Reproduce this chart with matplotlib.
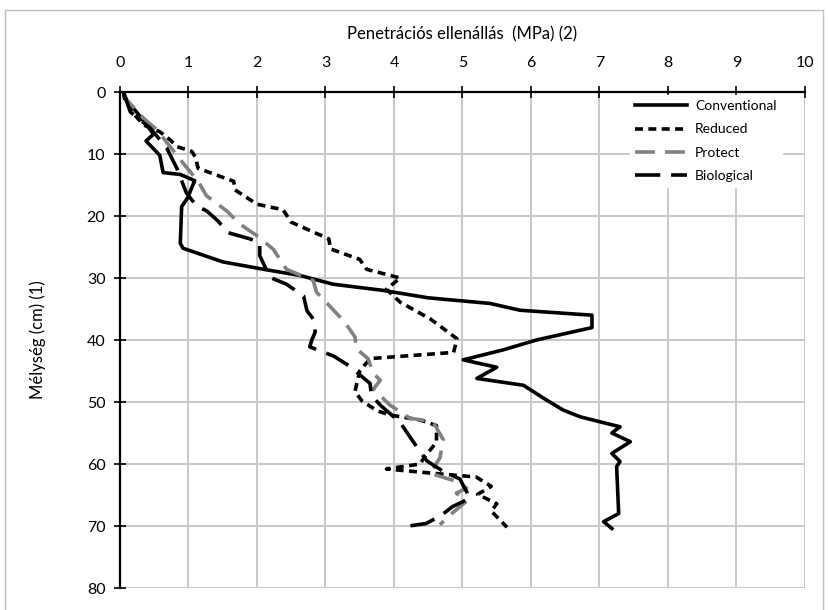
import matplotlib
matplotlib.use('Agg')
import matplotlib.pyplot as plt
from matplotlib.lines import Line2D

plt.rcParams['font.family'] = ['Lato', 'DejaVu Sans']

# depth (cm) and penetration resistance (MPa)
conv_x = [0.05, 0.07, 0.3, 0.49, 0.38, 0.58, 0.63, 0.88, 1.09, 0.99, 0.9, 0.88, 0.92, 1.5, 2.15, 2.63,
          3.11, 3.84, 4.5, 5.4, 5.84, 6.89, 6.89, 6.08, 5.59, 5.01, 5.5, 5.21, 5.89, 6.2, 6.47, 6.72,
          7.3, 7.18, 7.45, 7.18, 7.3, 7.25, 7.28, 7.06, 7.18]
conv_d = [0, 1, 4, 6.8, 7.9, 10.2, 13, 13.3, 14.3, 17, 18.5, 24.4, 25.2, 27.4, 28.7, 29.6,
          31, 32, 33.2, 34.1, 35.2, 36, 38, 40, 41.6, 43.2, 44.4, 46.2, 47.3, 49.5, 51.3, 52.4,
          54, 55, 56.4, 58.3, 59.6, 60.4, 68, 69.3, 70.4]

red_x = [0.05, 0.07, 0.2, 0.34, 0.58, 0.73, 0.83, 1.05, 1.1, 1.14, 1.46, 1.66, 1.68, 2.0, 2.38, 2.5,
         3.05, 3.07, 3.5, 3.6, 4.09, 3.89, 4.09, 4.53, 4.92, 4.87, 3.65, 3.5, 3.43, 3.53, 3.75, 3.94,
         4.38, 4.62, 4.62, 4.45, 4.38, 3.89, 4.57, 5.2, 5.42, 5.22, 5.5, 5.42, 5.65]
red_d = [0, 1.3, 3.5, 5.3, 6.4, 7.7, 8.8, 9.6, 10.5, 12.3, 13.6, 14.4, 15.8, 18.1, 19, 21,
         23.7, 25.3, 27, 28.6, 30, 31.8, 33.9, 36.6, 39.8, 42, 43, 45, 48.3, 49.8, 51.4, 52.1,
         52.9, 53.8, 56.5, 58.8, 60, 60.8, 61.5, 62.1, 63.6, 64.9, 66.4, 67.6, 70.2]

prot_x = [0.05, 0.1, 0.34, 0.54, 0.73, 0.9, 1.14, 1.26, 1.56, 1.75, 2.04, 2.24, 2.43, 2.82, 2.87,
          3.05, 3.28, 3.43, 3.45, 3.62, 3.7, 3.8, 3.7, 3.94, 4.23, 4.57, 4.72, 4.67, 4.53, 4.91,
          5.06, 4.91, 5.06, 4.82, 4.67]
prot_d = [0, 1.3, 4.2, 6.1, 8.8, 11.2, 14.4, 16.7, 19.2, 21.3, 23.5, 25.4, 28.6, 30.4, 32.3,
          34.4, 37.1, 39.5, 41.4, 43, 45.4, 46.5, 47.9, 50.5, 52.6, 53.2, 56.1, 59, 61.5, 62.8,
          63.9, 64.7, 66, 68.2, 69.8]

bio_x = [0.05, 0.15, 0.44, 0.68, 0.83, 0.97, 1.12, 1.27, 1.43, 1.58, 1.9, 2.04, 2.04, 2.19, 2.43,
         2.68, 2.73, 2.82, 2.85, 2.8, 2.77, 3.12, 3.35, 3.65, 3.67, 3.8, 4.09, 4.33, 4.48, 4.72,
         4.96, 5.11, 4.85, 4.7, 4.47, 4.15]
bio_d = [0, 3.2, 5.8, 9, 12.3, 16.3, 18.4, 19.2, 20.8, 22.7, 23.7, 24.3, 26.4, 29.9, 31,
         32.9, 35.3, 36.6, 38.7, 40, 41.1, 42.6, 44.2, 47, 48.9, 50.5, 53.3, 57.2, 59.5, 61.2,
         62.4, 65.5, 66.9, 68.2, 69.6, 70.1]

x_ticks = list(range(0, 11))
y_ticks = list(range(0, 81, 10))

fig = plt.figure(figsize=(8.29, 6.10), dpi=100)
ax = fig.add_axes([120 / 829, 1 - 588 / 610, 685 / 829, 496 / 610])

lw = 2.6
ax.plot(conv_x, conv_d, color='black', lw=lw, label='Conventional', solid_joinstyle='round')
ax.plot(red_x, red_d, color='black', lw=lw, dashes=(2.2, 1.5), label='Reduced')
ax.plot(prot_x, prot_d, color='#808080', lw=lw, dashes=(5.5, 2.8), label='Protect')
ax.plot(bio_x, bio_d, color='black', lw=lw, dashes=(7, 3), label='Biological')

ax.set_xlim(0, 10)
ax.set_ylim(80, 0)
ax.set_xticks(x_ticks)
ax.set_yticks(y_ticks)
ax.xaxis.tick_top()
ax.xaxis.set_label_position('top')
ax.tick_params(axis='both', direction='inout', length=9, width=1.2, labelsize=11.5, color='black')
ax.tick_params(axis='x', pad=11)
ax.tick_params(axis='y', pad=6)
ax.grid(True, color='#c8c8c8', lw=1.4)
ax.set_axisbelow(True)

for side in ['right', 'bottom']:
    ax.spines[side].set_visible(False)
for side in ['top', 'left']:
    ax.spines[side].set_linewidth(1.6)

ax.set_xlabel('Penetrációs ellenállás  (MPa) (2)', fontsize=12, labelpad=12)
ax.set_ylabel('Mélység (cm) (1)', fontsize=12, labelpad=29)

leg = ax.legend(loc='upper right', bbox_to_anchor=(1 - 20 / 685, 1.0), fontsize=10, handlelength=3.7,
                frameon=True, fancybox=False, borderaxespad=0.2, labelspacing=0.8,
                handletextpad=0.6)
leg.get_frame().set_edgecolor('white')
leg.get_frame().set_facecolor('white')
leg.get_frame().set_alpha(1)

# outer chart border
fig.add_artist(Line2D([5 / 829, 5 / 829], [0, 1 - 10 / 610], color='#bfbfbf', lw=1))
fig.add_artist(Line2D([5 / 829, 823 / 829], [1 - 10 / 610, 1 - 10 / 610], color='#bfbfbf', lw=1))
fig.add_artist(Line2D([823 / 829, 823 / 829], [0, 1 - 10 / 610], color='#bfbfbf', lw=1))

fig.savefig('out.png', dpi=100)
